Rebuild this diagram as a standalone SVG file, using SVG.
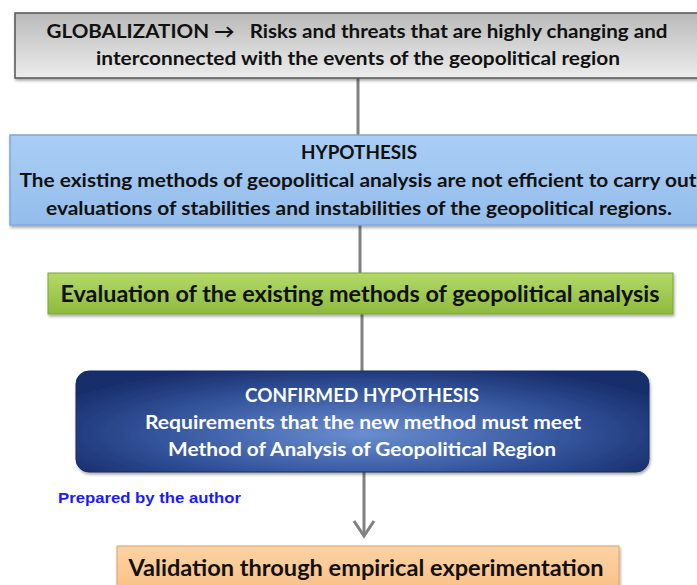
<svg xmlns="http://www.w3.org/2000/svg" width="697" height="585" viewBox="0 0 697 585">
<defs>
<linearGradient id="gGray" x1="0" y1="0" x2="0" y2="1"><stop offset="0" stop-color="#b9b9b9"/><stop offset="0.5" stop-color="#d4d4d4"/><stop offset="1" stop-color="#ececec"/></linearGradient>
<linearGradient id="gBlue" x1="0" y1="0" x2="0" y2="1"><stop offset="0" stop-color="#a9cdf5"/><stop offset="1" stop-color="#94bdec"/></linearGradient>
<linearGradient id="gGreen" x1="0" y1="0" x2="0" y2="1"><stop offset="0" stop-color="#b5d86a"/><stop offset="1" stop-color="#8dbb3c"/></linearGradient>
<radialGradient id="gDark" cx="0.5" cy="0.6" r="0.6" gradientTransform="matrix(1 0 0 1.2 0 -0.1)"><stop offset="0" stop-color="#6a8ed0"/><stop offset="0.6" stop-color="#33549c"/><stop offset="1" stop-color="#182d6a"/></radialGradient>
<linearGradient id="gOrange" x1="0" y1="0" x2="0" y2="1"><stop offset="0" stop-color="#fdd3a4"/><stop offset="1" stop-color="#fbbf85"/></linearGradient>
<filter id="sh" x="-5%" y="-10%" width="110%" height="130%"><feDropShadow dx="1" dy="2" stdDeviation="1.5" flood-color="#000" flood-opacity="0.35"/></filter>
</defs>
<style>
.t{font-family:Lato,"Open Sans","DejaVu Sans",sans-serif;font-weight:bold;text-anchor:middle}
.k{fill:#111}
.w{fill:#fff}
.c{stroke:#808080;stroke-width:3;fill:none}
</style>
<g id="connectors">
<line class="c" x1="358" y1="78" x2="358" y2="136"/>
<line class="c" x1="360" y1="225" x2="360" y2="273"/>
<line class="c" x1="362" y1="314" x2="362" y2="371"/>
<line class="c" x1="364" y1="472" x2="364" y2="536"/>
<path class="c" d="M354,521 L364,536 L374,521" stroke-linejoin="miter"/>
</g>
<g id="globalization">
<rect x="15" y="13" width="690" height="65" fill="url(#gGray)" stroke="#555" stroke-width="1.5" filter="url(#sh)"/>
<text class="t k" x="357" y="38" font-size="19" textLength="621" lengthAdjust="spacingAndGlyphs">GLOBALIZATION →&#160;&#160; Risks and threats that are highly changing and</text>
<text class="t k" x="358" y="65" font-size="19" textLength="524" lengthAdjust="spacingAndGlyphs">interconnected with the events of the geopolitical region</text>
</g>
<g id="hypothesis">
<rect x="10" y="135" width="700" height="90" fill="url(#gBlue)" stroke="#7da8da" stroke-width="1.5" filter="url(#sh)"/>
<text class="t k" x="359" y="159" font-size="19" textLength="116" lengthAdjust="spacingAndGlyphs">HYPOTHESIS</text>
<text class="t k" x="358" y="187" font-size="19" textLength="677" lengthAdjust="spacingAndGlyphs">The existing methods of geopolitical analysis are not efficient to carry out</text>
<text class="t k" x="359" y="215" font-size="19" textLength="626" lengthAdjust="spacingAndGlyphs">evaluations of stabilities and instabilities of the geopolitical regions.</text>
</g>
<g id="evaluation">
<rect x="48" y="273" width="625" height="41" fill="url(#gGreen)" stroke="#7da53a" stroke-width="1" filter="url(#sh)"/>
<text class="t k" x="360" y="302" font-size="22" textLength="599" lengthAdjust="spacingAndGlyphs">Evaluation of the existing methods of geopolitical analysis</text>
</g>
<g id="confirmed">
<rect x="76" y="371" width="573" height="101" rx="13" fill="url(#gDark)" stroke="#1a2c66" stroke-width="1" filter="url(#sh)"/>
<text class="t w" x="362" y="402" font-size="19" textLength="234" lengthAdjust="spacingAndGlyphs">CONFIRMED HYPOTHESIS</text>
<text class="t w" x="363" y="429" font-size="19" textLength="436" lengthAdjust="spacingAndGlyphs">Requirements that the new method must meet</text>
<text class="t w" x="362" y="456" font-size="19" textLength="388" lengthAdjust="spacingAndGlyphs">Method of Analysis of Geopolitical Region</text>
</g>
<text x="58" y="503" font-family="'Liberation Sans',Arial,sans-serif" font-weight="bold" font-size="15" fill="#1a1aff" textLength="183" lengthAdjust="spacingAndGlyphs">Prepared by the author</text>
<g id="validation">
<rect x="117" y="546" width="502" height="45" fill="url(#gOrange)" stroke="#d9a46e" stroke-width="1" filter="url(#sh)"/>
<text class="t k" x="366" y="576" font-size="22" textLength="475" lengthAdjust="spacingAndGlyphs">Validation through empirical experimentation</text>
</g>
</svg>
